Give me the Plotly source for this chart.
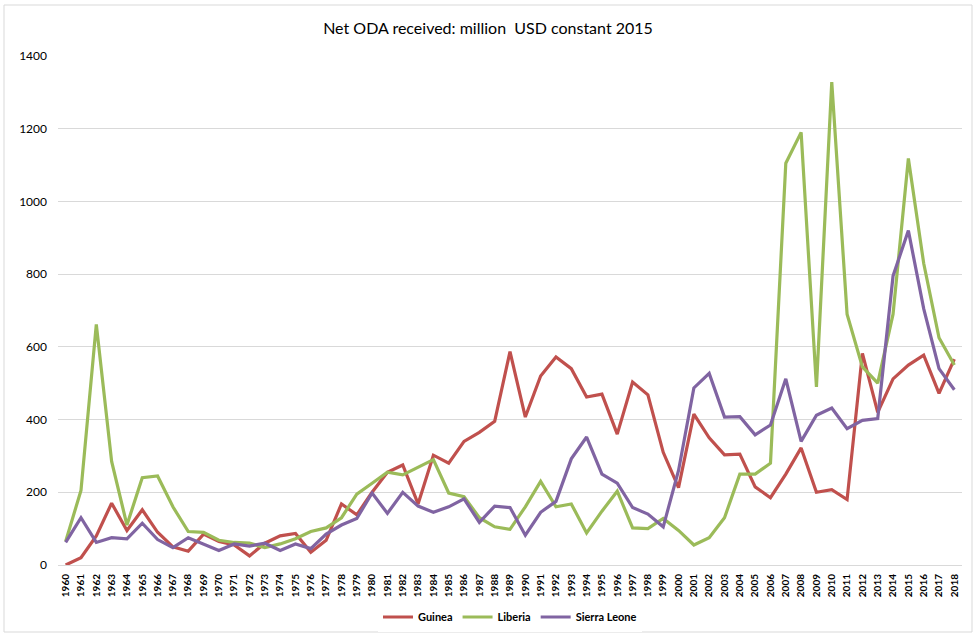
import plotly.graph_objects as go

years = list(range(1960, 2019))

guinea = [0, 20, 80, 170, 95, 152, 90, 50, 38, 85,
          65, 55, 25, 60, 80, 87, 35, 68, 168, 138,
          200, 255, 275, 168, 302, 280, 340, 365, 395, 587,
          407, 520, 572, 540, 462, 470, 360, 503, 468, 310,
          213, 415, 350, 303, 305, 215, 185, 250, 322, 200,
          207, 180, 582, 420, 512, 550, 577, 472, 566]

liberia = [65, 205, 662, 285, 110, 240, 245, 160, 92, 90,
           68, 62, 60, 48, 58, 72, 92, 102, 130, 195,
           225, 255, 248, 268, 290, 198, 188, 130, 105, 98,
           160, 230, 160, 168, 88, 148, 203, 102, 100, 128,
           95, 55, 75, 130, 250, 250, 280, 1105, 1190, 490,
           1328, 690, 545, 500, 690, 1118, 830, 625, 550]

sierra_leone = [62, 130, 62, 75, 72, 115, 70, 48, 75, 58,
                40, 58, 52, 60, 40, 58, 45, 85, 110, 128,
                198, 142, 200, 162, 145, 160, 182, 117, 162, 158,
                82, 145, 175, 292, 352, 250, 225, 158, 140, 105,
                260, 487, 527, 407, 408, 358, 385, 512, 340, 412,
                432, 375, 398, 403, 795, 920, 705, 540, 482]

series = [("Guinea", guinea, "#c0504d"),
          ("Liberia", liberia, "#9bbb59"),
          ("Sierra Leone", sierra_leone, "#8064a2")]

x_labels = [str(y) for y in years]

fig = go.Figure()
for name, vals, color in series:
    fig.add_trace(go.Scatter(
        x=x_labels, y=vals, mode="lines", name=name,
        line=dict(color=color, width=3.2),
    ))

W, H = 976, 636
ml, mr, mt, mb = 58, 14, 56, 71
pw, ph = W - ml - mr, H - mt - mb

def px_to_paper_x(px):
    return (px - ml) / pw

def px_to_paper_y(py):
    return (H - mb - py) / ph

fig.update_layout(
    width=W, height=H,
    margin=dict(l=ml, r=mr, t=mt, b=mb, autoexpand=False),
    paper_bgcolor="white", plot_bgcolor="white",
    font=dict(family="Lato, 'Open Sans', sans-serif", color="#000000"),
    title=dict(text="Net ODA received: million  USD constant 2015",
               x=0.5, xanchor="center", y=1 - 28 / H, yanchor="middle",
               font=dict(size=16, color="#000000")),
    showlegend=True,
    legend=dict(orientation="h", x=0.5, xanchor="center",
                y=px_to_paper_y(617), yanchor="middle",
                font=dict(size=11, color="#000000", family="Lato, sans-serif", weight="bold"),
                itemwidth=30, tracegroupgap=0),
    shapes=[dict(type="rect", xref="paper", yref="paper",
                 x0=px_to_paper_x(4), x1=px_to_paper_x(972),
                 y0=px_to_paper_y(632), y1=px_to_paper_y(5),
                 line=dict(color="#d9d9d9", width=1), layer="below")],
)

fig.update_xaxes(
    type="category", tickangle=-90, range=[-0.5, len(years) - 0.5],
    automargin=False,
    tickfont=dict(size=10, color="#000000", weight="bold"),
    showgrid=False, showline=True, linecolor="#d9d9d9", linewidth=1,
    ticks="", ticklabelstandoff=4,
)

fig.update_yaxes(
    range=[0, 1400], dtick=200, tickformat="d", automargin=False,
    showgrid=True, gridcolor="#d9d9d9", gridwidth=1,
    zeroline=False, showline=False,
    tickfont=dict(size=12, color="#000000"),
    ticklabelstandoff=10,
)

fig.write_html("out.html")
